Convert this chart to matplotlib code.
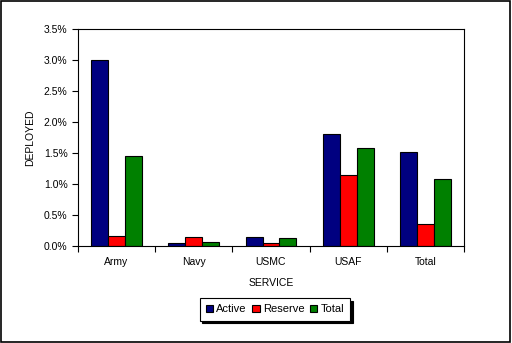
import numpy as np
import matplotlib
matplotlib.use('Agg')
import matplotlib.pyplot as plt
from matplotlib.ticker import FuncFormatter
from matplotlib.patches import Rectangle

plt.rcParams['font.family'] = ['Liberation Sans', 'DejaVu Sans']
plt.rcParams['font.size'] = 7.5

services = ['Army', 'Navy', 'USMC', 'USAF', 'Total']
active = [3.00, 0.04, 0.14, 1.80, 1.51]
reserve = [0.15, 0.135, 0.04, 1.14, 0.35]
total = [1.45, 0.055, 0.125, 1.57, 1.07]

colors = ['#000080', '#ff0000', '#008000']
labels = ['Active', 'Reserve', 'Total']

fig = plt.figure(figsize=(5.12, 3.43), dpi=100)
# outer chart border
fig.patches.append(Rectangle((0.002, 0.003), 0.995, 0.993, transform=fig.transFigure,
                             fill=False, edgecolor='black', linewidth=1.2))

ax = fig.add_axes([78/512, 1-245.7/343, (464-78)/512, (245.7-29)/343])

x = np.arange(len(services))
w = 0.22
for i, vals in enumerate([active, reserve, total]):
    ax.bar(x + (i-1)*w, vals, w, color=colors[i], edgecolor='black', linewidth=0.8, label=labels[i])

ax.set_xlim(-0.5, len(services)-0.5)
ax.set_ylim(0, 3.5)
ax.set_yticks(np.arange(0, 3.51, 0.5))
ax.yaxis.set_major_formatter(FuncFormatter(lambda v, p: f'{v:.1f}%'))
ax.set_xticks(np.arange(-0.5, len(services), 1))
ax.set_xticklabels([])
ax.set_xticks(x, minor=True)
ax.set_xticklabels(services, minor=True)
ax.tick_params(axis='x', which='minor', length=0, pad=8)
ax.tick_params(axis='both', which='major', length=4, width=0.8, direction='out')
for s in ax.spines.values():
    s.set_linewidth(0.8)

ax.set_xlabel('SERVICE', labelpad=8)
ax.set_ylabel('DEPLOYED', labelpad=6)

leg = ax.legend(loc='center', bbox_to_anchor=(275/512, 1-309.5/343), bbox_transform=fig.transFigure,
                ncol=3, frameon=True, fancybox=False, shadow={'color': 'black', 'alpha': 1},
                edgecolor='black',
                handlelength=0.65, handleheight=0.65, handletextpad=0.3, columnspacing=0.5,
                borderpad=0.55, borderaxespad=0, fontsize=8)
leg.get_frame().set_linewidth(0.8)

fig.savefig('out.png', dpi=100)
